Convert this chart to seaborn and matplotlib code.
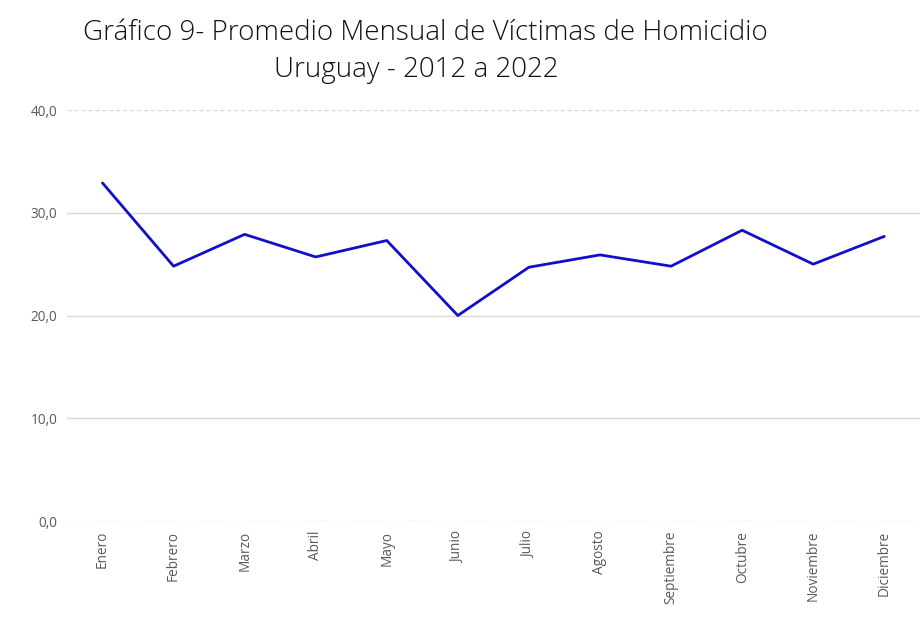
import matplotlib
matplotlib.use("Agg")
import matplotlib.pyplot as plt
import pandas as pd
import seaborn as sns

# datos
meses = ["Enero", "Febrero", "Marzo", "Abril", "Mayo", "Junio", "Julio",
         "Agosto", "Septiembre", "Octubre", "Noviembre", "Diciembre"]
promedio = [32.9, 24.8, 27.9, 25.7, 27.3, 20.0, 24.7, 25.9, 24.8, 28.3, 25.0, 27.7]
y_ticks = [0, 10, 20, 30, 40]

df = pd.DataFrame({"mes": meses, "valor": promedio})

sns.set_style("white")
plt.rcParams["font.family"] = ["Open Sans", "DejaVu Sans"]

fig = plt.figure(figsize=(9.21, 6.23), dpi=100)
ax = fig.add_axes([0.0727, 0.1637, 0.926, 0.6597])

sns.lineplot(data=df, x="mes", y="valor", sort=False, color="#1010c8",
             linewidth=2.0, ax=ax)

ax.set_xlim(-0.5, len(meses) - 0.5)
ax.set_ylim(0, 40)
ax.set_yticks(y_ticks)
ax.set_yticklabels([f"{v:.1f}".replace(".", ",") for v in y_ticks])
ax.set_xticks(range(len(meses)))
ax.set_xticklabels(meses, rotation=90)
ax.tick_params(axis="both", length=0, labelsize=9.8, colors="#595959", pad=7)
ax.set_xlabel("")
ax.set_ylabel("")

for v in y_ticks:
    ls = (0, (3, 2)) if v in (0, 40) else "-"
    ax.axhline(v, color="#d9d9d9", linewidth=1, linestyle=ls, zorder=0)
for s in ax.spines.values():
    s.set_visible(False)

fig.text(0.4615, 0.935, "Gráfico 9- Promedio Mensual de Víctimas de Homicidio",
         ha="center", va="baseline", fontsize=20, fontweight="light", color="#111111")
fig.text(0.452, 0.876, "Uruguay - 2012 a 2022",
         ha="center", va="baseline", fontsize=20, fontweight="light", color="#111111")

fig.savefig("out.png", dpi=100)
